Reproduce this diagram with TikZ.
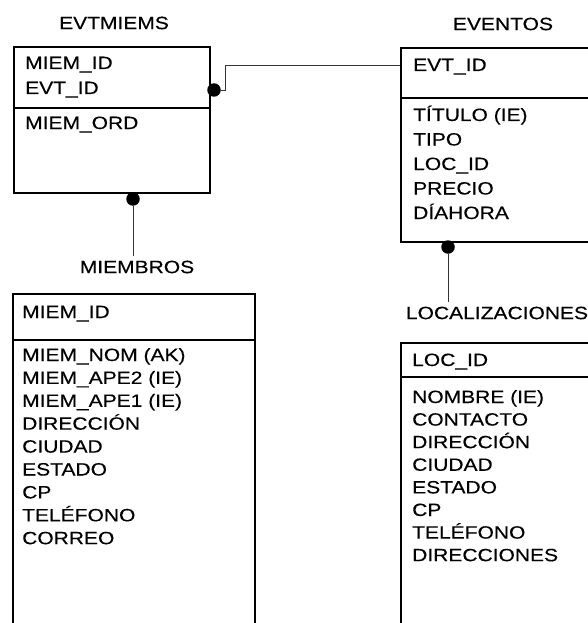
\documentclass[tikz,border=0pt]{standalone}
\usepackage{fontspec}
\newfontfamily\erfont[FakeStretch=1.18,FakeBold=0.3]{Liberation Sans}
\usetikzlibrary{positioning}

\begin{document}
\begin{tikzpicture}[x=1pt,y=-1pt,
		tablebox/.style={draw,line width=1.8pt,anchor=north west,inner sep=0pt},
		divider/.style={line width=1.8pt},
		tabletitle/.style={font=\erfont\fontsize{17.8}{20}\selectfont,inner sep=5pt},
		field/.style={font=\erfont\fontsize{17.8}{20}\selectfont,anchor=base west,inner sep=0pt},
		dotend/.style={circle,fill,inner sep=0pt,minimum size=13.5pt},
		link/.style={draw=black!80,line width=0.8pt}]
				\clip (0,0) rectangle (588,623);
				% EVTMIEMS
				\node[tabletitle] (evtmiemsT) at (114,23) {EVTMIEMS};
				\node[tablebox,minimum width=196pt,minimum height=146pt] (evtmiems) at (13,46) {};
				\draw[divider] (13,108) -- (209,108);
				\node[field] (em1) at (25,69) {MIEM\_ID};
				\node[field] (em2) at (25,94) {EVT\_ID};
				\node[field] (em3) at (25,129) {MIEM\_ORD};
				% EVENTOS
				\node[tabletitle] (eventosT) at (503,24) {EVENTOS};
				\node[tablebox,minimum width=210pt,minimum height=194pt] (eventos) at (400,47) {};
				\draw[divider] (400,98) -- (610,98);
				\node[field] (ev0) at (413,71) {EVT\_ID};
				\foreach \f [count=\i] in {TÍTULO (IE),TIPO,LOC\_ID,PRECIO,DÍAHORA}
					\node[field] (ev\i) at (413,{121+(\i-1)*24.5}) {\f};
				% MIEMBROS
				\node[tabletitle] (miembrosT) at (137,267) {MIEMBROS};
				\node[tablebox,minimum width=242pt,minimum height=357pt] (miembros) at (12,293) {};
				\draw[divider] (12,340) -- (254,340);
				\node[field] (mi0) at (22,318) {MIEM\_ID};
				\foreach \f [count=\i] in {MIEM\_NOM (AK),MIEM\_APE2 (IE),MIEM\_APE1 (IE),DIRECCIÓN,CIUDAD,ESTADO,CP,TELÉFONO,CORREO}
					\node[field] (mi\i) at (22,{361+(\i-1)*22.9}) {\f};
				% LOCALIZACIONES
				\node[tabletitle] (locT) at (497,313) {LOCALIZACIONES};
				\node[tablebox,minimum width=210pt,minimum height=308pt] (loc) at (400,342) {};
				\draw[divider] (400,377) -- (610,377);
				\node[field] (lo0) at (412,366) {LOC\_ID};
				\foreach \f [count=\i] in {NOMBRE (IE),CONTACTO,DIRECCIÓN,CIUDAD,ESTADO,CP,TELÉFONO,DIRECCIONES}
					\node[field] (lo\i) at (412,{403+(\i-1)*22.6}) {\f};
				% relationships
				\node[dotend] (dotA) at (214,90) {};
				\node[dotend] (dotB) at (133,199) {};
				\node[dotend] (dotC) at (448,247) {};
				\coordinate (bendA) at (225,65);
				\draw[link] (dotA.east) -| (bendA) -- (bendA -| eventos.west);
				\draw[link] (dotB) -- (dotB |- miembrosT.north);
				\draw[link] (dotC) -- (dotC |- locT.north);
			\end{tikzpicture}
\end{document}
